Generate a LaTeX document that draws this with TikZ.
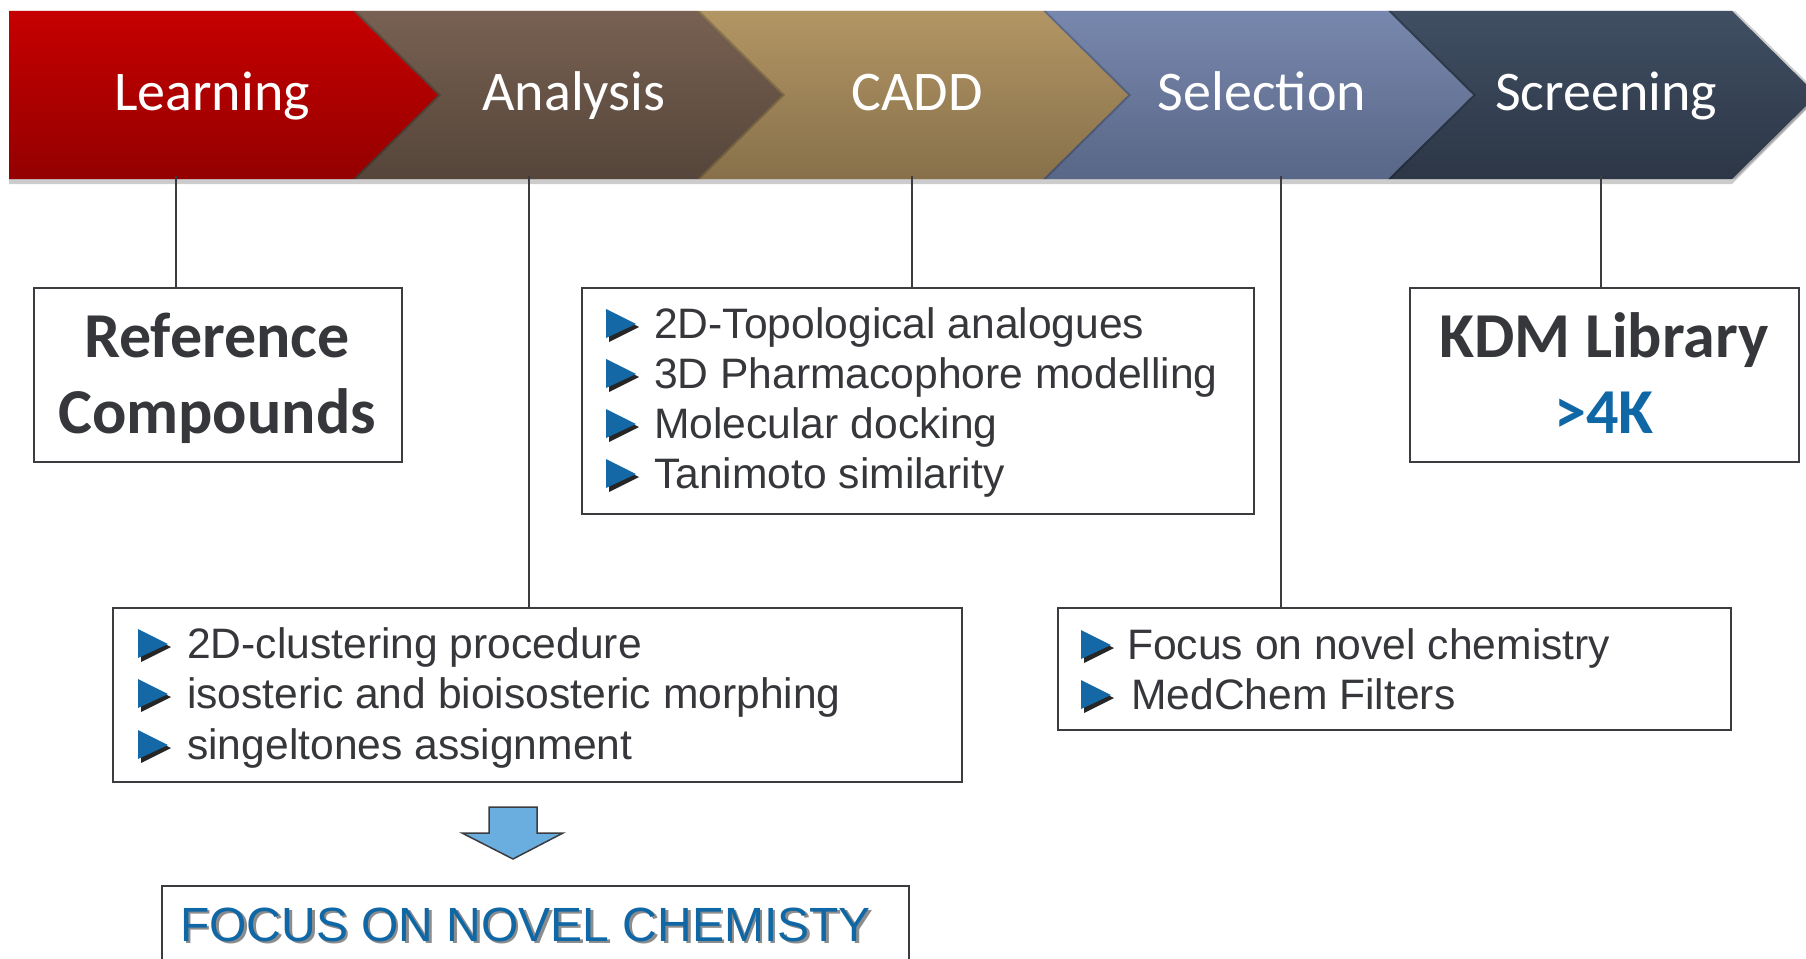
\documentclass[tikz,border=0pt]{standalone}
\usepackage{fontspec}
\newfontfamily\arialf{Liberation Sans}
\newfontfamily\calf{Carlito}
\definecolor{txt}{HTML}{36373B}
\definecolor{blu}{HTML}{0F67A5}
\definecolor{bulc}{HTML}{1468A6}
\definecolor{linec}{HTML}{3C3C40}
\definecolor{arrowfill}{HTML}{6AAEE0}
\definecolor{rTop}{HTML}{C60000}\definecolor{rBot}{HTML}{940000}
\definecolor{aTop}{HTML}{786152}\definecolor{aBot}{HTML}{55453A}
\definecolor{cTop}{HTML}{B29664}\definecolor{cBot}{HTML}{87704A}
\definecolor{sTop}{HTML}{7887AD}\definecolor{sBot}{HTML}{586787}
\definecolor{qTop}{HTML}{404F63}\definecolor{qBot}{HTML}{2C3646}
\tikzset{
  boxst/.style={draw=linec, line width=2.2pt, fill=white, inner sep=0pt},
  conn/.style={draw=linec, line width=1.8pt},
  stagetxt/.style={anchor=base, text=white, inner sep=0pt, font=\calf\fontsize{56}{60}\selectfont},
  bigtxt/.style={anchor=base, text=txt, inner sep=0pt, font=\calf\bfseries\fontsize{64}{68}\selectfont},
  itemtxt/.style={anchor=base west, text=txt, inner sep=0pt, font=\arialf\fontsize{42.6}{48}\selectfont},
  bul/.pic={
    \fill[black, opacity=.85] (3,-26) -- (33,-11) -- (3,4) -- cycle;
    \fill[bulc] (0,-29) -- (30,-14) -- (0,0) -- cycle;
  }
}
\begin{document}
\begin{tikzpicture}[x=1pt,y=-1pt]
\useasboundingbox (0,0) rectangle (1806,958);
\begin{scope}
\clip (0,0) rectangle (1806,958);
% banner shadow
\fill[black, opacity=.2] (9,14) -- (1732,14) -- (1817,99) -- (1732,184) -- (9,184) -- cycle;
% banner segments, right to left
\fill[black, opacity=.2] (1388,11) -- (1735,11) -- (1820,95) -- (1735,179) -- (1388,179) -- cycle;
\shade[top color=qTop, bottom color=qBot] (1388,11) -- (1732,11) -- (1817,95) -- (1732,179) -- (1388,179) -- cycle;
\fill[black, opacity=.2] (1043,11) -- (1391,11) -- (1476,95) -- (1391,179) -- (1043,179) -- cycle;
\shade[top color=sTop, bottom color=sBot] (1043,11) -- (1388,11) -- (1473,95) -- (1388,179) -- (1043,179) -- cycle;
\fill[black, opacity=.2] (697,11) -- (1046,11) -- (1131,95) -- (1046,179) -- (697,179) -- cycle;
\shade[top color=cTop, bottom color=cBot] (697,11) -- (1043,11) -- (1128,95) -- (1043,179) -- (697,179) -- cycle;
\fill[black, opacity=.2] (353,11) -- (700,11) -- (785,95) -- (700,179) -- (353,179) -- cycle;
\shade[top color=aTop, bottom color=aBot] (353,11) -- (697,11) -- (782,95) -- (697,179) -- (353,179) -- cycle;
\fill[black, opacity=.2] (9,11) -- (356,11) -- (441,95) -- (356,179) -- (9,179) -- cycle;
\shade[top color=rTop, bottom color=rBot] (9,11) -- (353,11) -- (438,95) -- (353,179) -- (9,179) -- cycle;

% stage labels
\node[stagetxt] (learn) at (212,110) {Learning};
\node[stagetxt] (anal) at (574,110) {Analysis};
\node[stagetxt] (cadd) at (917,110) {CADD};
\node[stagetxt] (sel) at (1262,110) {Selection};
\node[stagetxt] (scr) at (1606,110) {Screening};

% connector start points on the banner
\coordinate (cL) at (176,176);
\coordinate (cA) at (529,176);
\coordinate (cC) at (912,176);
\coordinate (cS) at (1281,176);
\coordinate (cQ) at (1601,176);

% boxes
\node[boxst, anchor=north west, minimum width=368, minimum height=174] (ref) at (33,287) {};
\node[boxst, anchor=north west, minimum width=672, minimum height=226] (caddbox) at (581,287) {};
\node[boxst, anchor=north west, minimum width=389, minimum height=174] (kdm) at (1409,287) {};
\node[boxst, anchor=north west, minimum width=849, minimum height=174] (anbox) at (112,607) {};
\node[boxst, anchor=north west, minimum width=673, minimum height=122] (selbox) at (1057,607) {};
\node[boxst, anchor=north west, minimum width=747, minimum height=100] (focus) at (161,885) {};

% connectors
\draw[conn] (cL) -- (cL |- ref.north);
\draw[conn] (cA) -- (cA |- anbox.north);
\draw[conn] (cC) -- (cC |- caddbox.north);
\draw[conn] (cS) -- (cS |- selbox.north);
\draw[conn] (cQ) -- (cQ |- kdm.north);

% box texts
\node[bigtxt] (ref1) at (217,357) {Reference};
\node[bigtxt] (ref2) at (217,433) {Compounds};
\node[bigtxt] (kdm1) at (1604,357) {KDM Library};
\node[bigtxt, text=blu] (kdm2) at (1604,433) {>4K};

% CADD items
\pic at (606,338) {bul};
\pic at (606,388) {bul};
\pic at (606,438) {bul};
\pic at (606,488) {bul};
\node[itemtxt] (c1) at (654,338) {2D-Topological analogues};
\node[itemtxt] (c2) at (654,388) {3D Pharmacophore modelling};
\node[itemtxt] (c3) at (654,438) {Molecular docking};
\node[itemtxt] (c4) at (654,488) {Tanimoto similarity};

% Analysis items
\pic at (138,658) {bul};
\pic at (138,708) {bul};
\pic at (138,759) {bul};
\node[itemtxt] (a1) at (187,658) {2D-clustering procedure};
\node[itemtxt] (a2) at (187,708) {isosteric and bioisosteric morphing};
\node[itemtxt] (a3) at (187,759) {singeltones assignment};

% Selection items
\pic at (1081,659) {bul};
\pic at (1081,709) {bul};
\node[itemtxt] (s1) at (1127,659) {Focus on novel chemistry};
\node[itemtxt] (s2) at (1131,709) {MedChem Filters};

% block arrow
\filldraw[fill=arrowfill, draw=linec, line width=1.5pt, line join=miter]
  (489,807) -- (537,807) -- (537,833) -- (563,833) -- (513,859) -- (462,833) -- (489,833) -- cycle;

% focus text with shadow
\node[anchor=base west, inner sep=0pt, text=black!45, font=\arialf\fontsize{48}{52}\selectfont] at (182.5,943.5) {FOCUS ON NOVEL CHEMISTY};
\node[anchor=base west, inner sep=0pt, text=blu, font=\arialf\fontsize{48}{52}\selectfont] (focustxt) at (180,941) {FOCUS ON NOVEL CHEMISTY};
\end{scope}
\end{tikzpicture}
\end{document}
